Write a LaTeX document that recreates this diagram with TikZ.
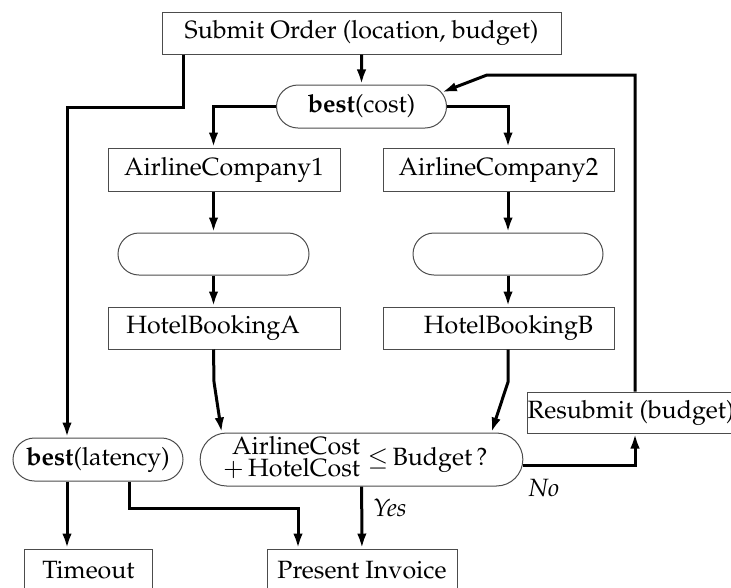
\documentclass[tikz,border=0pt]{standalone}
\usepackage[T1]{fontenc}
\usepackage{mathpazo}
\usepackage{amsmath}
\usepackage{tikz}
\usetikzlibrary{shapes.misc,arrows.meta}

\tikzset{
  box/.style={draw=black!70, line width=0.4pt, rectangle, minimum height=16.8pt, inner sep=0pt},
  pill/.style={draw=black!70, line width=0.4pt, rounded rectangle, minimum height=16.8pt, inner sep=0pt},
  flow/.style={->, line width=1.2pt},
  lbl/.style={font=\itshape, inner sep=1pt}
}

\begin{document}
\begin{tikzpicture}[x=0.4pt,y=-0.4pt,>={Latex[length=6pt,width=3.8pt]}]
\useasboundingbox (0,0) rectangle (731,587);
        \node[box, minimum width=159.6pt] (submit) at (361.5,33) {Submit Order\ (location, budget)};
        \node[pill, minimum width=68pt, minimum height=17.2pt] (bestcost) at (361.5,106.5) {\textbf{best}(cost)};
        \node[box, minimum width=92.8pt, minimum height=17.2pt] (airA) at (224,169.5) {AirlineCompany1};
        \node[box, minimum width=92.4pt, minimum height=17.2pt] (airB) at (498.5,169.5) {AirlineCompany2};
        \node[pill, minimum width=76.4pt] (emptyA) at (213.5,254) {};
        \node[pill, minimum width=76pt] (emptyB) at (508,254) {};
        \node[box, minimum width=92.8pt] (hotelA) at (224,328) {HotelBookingA\hspace*{8.8pt}};
        \node[box, minimum width=92.4pt] (hotelB) at (498.5,328) {\hspace*{8pt}HotelBookingB};
        \node[box, minimum width=80.8pt, minimum height=16.4pt] (resub) at (631,412.5) {Resubmit (budget)};
        \node[pill, minimum width=118.8pt, minimum height=21.2pt] (decide) at (361.5,459.5)
            {\begin{tabular}{@{}r@{}}AirlineCost\\[-3pt]$+$\,HotelCost\end{tabular}\hspace{3pt}$\leq$\,Budget\,?\hspace*{5pt}};
        \node[pill, minimum width=68pt, minimum height=17.2pt] (latency) at (98,459.5) {\textbf{best}(latency)};
        \node[box, minimum width=50.8pt] (timeout) at (88.5,570) {Timeout};
        \node[box, minimum width=76pt] (invoice) at (362,570) {Present Invoice};
        \node[lbl] (no) at (544,488) {No};

        % main branch
        \draw[flow] (submit) -- (bestcost);
        \draw[flow] (bestcost.west) -| (emptyA.center |- airA.north);
        \draw[flow] (bestcost.east) -| (emptyB.center |- airB.north);
        \draw[flow] (emptyA.center |- airA.south) -- (emptyA.north);
        \draw[flow] (emptyA.south) -- (emptyA.center |- hotelA.north);
        \draw[flow] (emptyB.center |- airB.south) -- (emptyB.north);
        \draw[flow] (emptyB.south) -- (emptyB.center |- hotelB.north);
        \draw[flow] (emptyA.center |- hotelA.south) -- (214,382) -- ([xshift=-2pt]decide.north west);
        \draw[flow] (emptyB.center |- hotelB.south) -- (508,382) -- ([xshift=-2pt]decide.north east);

        % retry loop
        \draw[flow] ([yshift=-2.2pt]decide.east) -| (635,0 |- resub.south);
        \draw[flow] (635,0 |- resub.north) |- (487,75) -- (bestcost.10);
        \draw[flow] (decide) -- (invoice) node[lbl, pos=0.35, anchor=west, xshift=3pt] {Yes};

        % latency branch
        \draw[flow] (183,0 |- submit.south) |- (67,107) -- (67,0 |- latency.north);
        \draw[flow] (67,0 |- latency.south) -- (67,0 |- timeout.north);
        \draw[flow] (129,0 |- latency.south) |- (298,508) -- (298,0 |- invoice.north);
\end{tikzpicture}
\end{document}
